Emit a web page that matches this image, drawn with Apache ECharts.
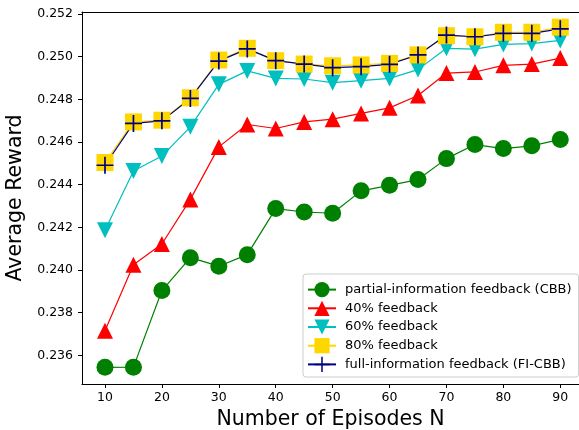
<!DOCTYPE html>
<html>
<head>
<meta charset="utf-8">
<script src="https://cdn.jsdelivr.net/npm/echarts@6/dist/echarts.min.js"></script>
<style>html,body{margin:0;padding:0;background:#fff;}#c{width:579px;height:430px;}</style>
</head>
<body>
<div id="c"></div>
<script>
var episodes = [10,15,20,25,30,35,40,45,50,55,60,65,70,75,80,85,90];
var cbb  = [0.23544,0.23545,0.23904,0.24058,0.24018,0.24072,0.24288,0.24272,0.24266,0.24371,0.24397,0.24424,0.24522,0.24588,0.24569,0.24582,0.24612];
var fb40 = [0.23716,0.24025,0.24122,0.24331,0.24577,0.24682,0.24663,0.24694,0.24707,0.24734,0.24760,0.24818,0.24923,0.24928,0.24959,0.24965,0.24993];
var fb60 = [0.24186,0.24464,0.24534,0.24671,0.24870,0.24933,0.24898,0.24895,0.24878,0.24887,0.24898,0.24939,0.25039,0.25035,0.25057,0.25061,0.25076];
var fb80 = [0.24504,0.24694,0.24702,0.24807,0.24984,0.25039,0.24981,0.24965,0.24957,0.24961,0.24968,0.25008,0.25098,0.25093,0.25114,0.25114,0.25138];
var full = [0.24491,0.24687,0.24699,0.24804,0.24979,0.25036,0.24981,0.24965,0.24948,0.24953,0.24964,0.25008,0.25101,0.25093,0.25109,0.25109,0.25130];
var xTicks = [10,20,30,40,50,60,70,80,90];
var yTicks = [0.236,0.238,0.240,0.242,0.244,0.246,0.248,0.250,0.252];
var names = ['partial-information feedback (CBB)','40% feedback','60% feedback','80% feedback','full-information feedback (FI-CBB)'];

function pairs(ys){ return episodes.map(function(x,i){ return [x, ys[i]]; }); }
var plusPath = 'path://M-0.1,-1L0.1,-1L0.1,-0.1L1,-0.1L1,0.1L0.1,0.1L0.1,1L-0.1,1L-0.1,0.1L-1,0.1L-1,-0.1L-0.1,-0.1Z';
var font = 'DejaVu Sans';

function mk(name, ys, color, symbol, size, rot){
  return {
    name: name, type: 'line', data: pairs(ys),
    symbol: symbol, symbolSize: size, symbolRotate: rot || 0,
    showAllSymbol: true,
    lineStyle: {color: color, width: 1.2},
    itemStyle: {color: color},
    emphasis: {disabled: true}
  };
}

var chart = echarts.init(document.getElementById('c'));
chart.setOption({
  animation: false,
  textStyle: {fontFamily: font},
  grid: {left: 82, top: 12, bottom: 46, right: 0, show: false, containLabel: false, outerBoundsMode: 'none'},
  xAxis: [{
    type: 'value', min: 5.96, max: 93.29,
    name: 'Number of Episodes N', nameLocation: 'middle', nameGap: 25,
    nameTextStyle: {fontSize: 20.5, color: '#000', fontFamily: font},
    axisLine: {show: true, lineStyle: {color: '#000', width: 1}},
    axisTick: {show: true, length: 4, inside: false, customValues: xTicks, lineStyle: {color: '#000'}},
    axisLabel: {customValues: xTicks, fontSize: 12.5, color: '#000', margin: 7, fontFamily: font},
    splitLine: {show: false}
  }, {
    type: 'value', min: 5.96, max: 93.29, position: 'top',
    axisLine: {show: true, lineStyle: {color: '#000', width: 1}},
    axisTick: {show: false}, axisLabel: {show: false}, splitLine: {show: false}
  }],
  yAxis: {
    type: 'value', min: 0.23466, max: 0.25209,
    name: 'Average Reward', nameLocation: 'middle', nameGap: 47,
    nameTextStyle: {fontSize: 20.5, color: '#000', fontFamily: font},
    axisLine: {show: true, lineStyle: {color: '#000'}},
    axisTick: {show: true, length: 4, inside: false, customValues: yTicks, lineStyle: {color: '#000'}},
    axisLabel: {customValues: yTicks, fontSize: 12.5, color: '#000', margin: 9, fontFamily: font,
      formatter: function(v){ return v.toFixed(3); }},
    splitLine: {show: false}
  },
  legend: {
    orient: 'vertical', left: 303, top: 274,
    padding: [8, 7, 5, 4],
    itemWidth: 28, itemHeight: 19, itemGap: 3.5,
    backgroundColor: 'rgba(255,255,255,0.8)',
    borderColor: '#cccccc', borderWidth: 1, borderRadius: 3,
    textStyle: {fontSize: 13, color: '#000', fontFamily: font, padding: [0,0,0,4]},
    data: names
  },
  series: [
    mk(names[0], cbb, '#008000', 'circle', 17),
    mk(names[1], fb40, '#ff0000', 'triangle', 16),
    mk(names[2], fb60, '#00bfbf', 'triangle', 16, 180),
    mk(names[3], fb80, '#ffd700', 'rect', 17),
    mk(names[4], full, '#000080', plusPath, 17)
  ]
});
</script>
</body>
</html>
